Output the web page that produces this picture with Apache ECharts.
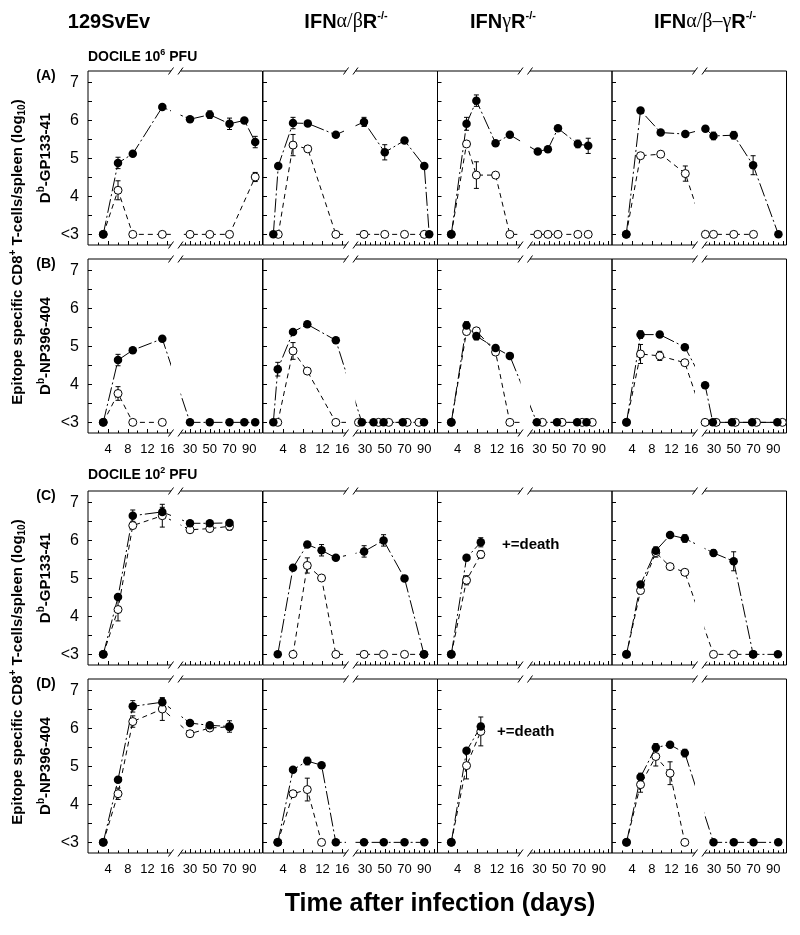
<!DOCTYPE html>
<html><head><meta charset="utf-8">
<script src="https://cdn.jsdelivr.net/npm/echarts@6/dist/echarts.min.js"></script>
<style>html,body{margin:0;padding:0;background:#fff}#c{width:800px;height:935px}</style>
</head><body><div id="c"></div>
<script>
// ---------------- DATA ----------------
// tick labels
const xTickLabels = [4, 8, 12, 16, 30, 50, 70, 90];
const xMajorTicksLeft = [4, 8, 12, 16];
const xMinorTicksLeft = [2, 6, 10, 14];
const xMajorTicksRight = [30, 40, 50, 60, 70, 80, 90, 100];
const xMinorTicksRight = [25, 35, 45, 55, 65, 75, 85, 95];
const yTickValues = [3, 4, 5, 6, 7];
const yTickLabels = ['<3', '4', '5', '6', '7'];
const yMinorTicks = [3, 3.5, 4, 4.5, 5, 5.5, 6, 6.5, 7];
const rowEpitopes = ['GP133-41', 'NP396-404', 'GP133-41', 'NP396-404'];
const rowLetters = ['(A)', '(B)', '(C)', '(D)'];

// each point: [day, log10 value, error]
const A1_filled = [[3,3,0],[6,4.88,0.15],[9,5.12,0],[15,6.35,0],[30,6.03,0],[50,6.15,0.1],[70,5.91,0.15],[85,6.0,0],[96,5.43,0.15]];
const A1_open   = [[3,3,0],[6,4.16,0.25],[9,3,0],[15,3,0],[30,3,0],[50,3,0],[70,3,0],[96,4.51,0.12]];
const A2_filled = [[2,3,0],[3,4.8,0],[6,5.93,0.15],[9,5.92,0],[14.7,5.62,0],[29,5.96,0.12],[50,5.16,0.2],[70,5.47,0.07],[90,4.8,0],[95,3,0]];
const A2_open   = [[3,3,0],[6,5.35,0.28],[9,5.25,0.08],[14.7,3,0],[29,3,0],[50,3,0],[70,3,0],[90,3,0]];
const A3_filled = [[2.7,3,0],[5.8,5.91,0.17],[7.8,6.52,0.15],[11.7,5.40,0],[14.6,5.62,0],[28.3,5.18,0],[38.5,5.24,0],[48.7,5.79,0],[68.8,5.38,0.1],[79.3,5.33,0.2]];
const A3_open   = [[2.7,3,0],[5.8,5.38,0],[7.8,4.56,0.35],[11.7,4.56,0.05],[14.6,3,0],[28.3,3,0],[38.5,3,0],[48.7,3,0],[68.8,3,0],[79.3,3,0]];
const A4_filled = [[2.8,3,0],[5.7,6.26,0],[9.8,5.68,0],[14.8,5.64,0],[21.3,5.78,0],[29.5,5.59,0.1],[50,5.61,0.1],[69.6,4.82,0.25],[95.2,3,0]];
const A4_open   = [[2.8,3,0],[5.7,5.07,0],[9.8,5.11,0],[14.8,4.6,0.2],[21.3,3,0],[29.5,3,0],[50,3,0],[70,3,0]];

const B1_filled = [[3,3,0],[6,4.64,0.15],[9,4.90,0],[15,5.20,0],[30,3,0],[50,3,0],[70,3,0],[85,3,0],[96,3,0]];
const B1_open   = [[3,3,0],[6,3.76,0.18],[9,3,0],[15,3,0]];
const B2_filled = [[2,3,0],[2.9,4.40,0.18],[6,5.38,0.06],[8.9,5.58,0],[14.7,5.16,0.07],[26.8,3,0],[38.6,3,0],[48.8,3,0],[68.2,3,0],[89.7,3,0]];
const B2_open   = [[2.9,3,0],[6,4.88,0.22],[8.9,4.35,0],[14.7,3,0],[23.4,3,0],[43.7,3,0],[54,3,0],[72.6,3,0],[84.6,3,0]];
const B3_filled = [[2.7,3,0],[5.8,5.55,0.1],[7.8,5.27,0.1],[11.7,4.96,0],[14.6,4.75,0],[27.3,3,0],[47.7,3,0],[68.1,3,0],[77.6,3,0]];
const B3_open   = [[2.7,3,0],[5.8,5.39,0],[7.8,5.41,0],[11.7,4.85,0],[14.6,3,0],[33,3,0],[52.8,3,0],[73.2,3,0],[83.4,3,0]];
const B4_filled = [[2.85,3,0],[5.7,5.31,0.1],[9.6,5.31,0],[14.7,4.98,0],[21,3.98,0],[28.8,3,0],[48.2,3,0],[68.6,3,0],[94.1,3,0]];
const B4_open   = [[2.85,3,0],[5.7,4.80,0.25],[9.6,4.75,0.12],[14.7,4.57,0],[21,3,0],[32.2,3,0],[51.6,3,0],[73,3,0],[99.2,3,0]];

const C1_filled = [[3,3,0],[6,4.51,0],[9,6.65,0.15],[15,6.75,0.12],[30,6.45,0],[50,6.45,0],[70,6.46,0.05]];
const C1_open   = [[3,3,0],[6,4.18,0.3],[9,6.39,0],[15,6.65,0.3],[30,6.28,0],[50,6.31,0],[70,6.37,0.1]];
const C2_filled = [[2.9,3,0],[6,5.28,0],[8.9,5.89,0],[11.8,5.74,0.15],[14.7,5.54,0],[29.1,5.71,0.15],[48.8,6.0,0.15],[70,5.0,0],[89.7,3,0]];
const C2_open   = [[6,3,0],[8.9,5.34,0.2],[11.8,5.01,0.05],[14.7,3,0],[29.1,3,0],[48.8,3,0],[70,3,0],[89.7,3,0]];
const C3_filled = [[2.7,3,0],[5.8,5.54,0],[8.7,5.95,0.12]];
const C3_open   = [[2.7,3,0],[5.8,4.95,0.12],[8.7,5.63,0.1]];
const C4_filled = [[2.85,3,0],[5.7,4.84,0],[8.8,5.73,0.1],[11.7,6.14,0.05],[14.7,6.05,0.1],[29.5,5.67,0.08],[49.9,5.45,0.25],[69.6,3,0],[94.7,3,0]];
const C4_open   = [[2.85,3,0],[5.7,4.68,0.08],[8.8,5.68,0.12],[11.7,5.31,0.05],[14.7,5.16,0],[29.5,3,0],[49.9,3,0],[69.6,3,0]];

const D1_filled = [[3,3,0],[6,4.65,0],[9,6.58,0.15],[15,6.69,0.1],[30,6.14,0],[50,6.08,0],[70,6.05,0.15]];
const D1_open   = [[3,3,0],[6,4.28,0.15],[9,6.18,0.15],[15,6.51,0.3],[30,5.86,0],[50,6.01,0],[70,6.04,0]];
const D2_filled = [[2.9,3,0],[6,4.91,0],[8.9,5.14,0.1],[11.8,5.03,0],[14.7,3,0],[29,3,0],[49,3,0],[70,3,0],[90,3,0]];
const D2_open   = [[2.9,3,0],[6,4.28,0],[8.9,4.39,0.3],[11.8,3,0]];
const D3_filled = [[2.7,3,0],[5.8,5.41,0],[8.7,6.05,0.08]];
const D3_open   = [[2.7,3,0],[5.8,5.02,0.35],[8.7,5.92,0.38]];
const D4_filled = [[2.85,3,0],[5.7,4.72,0.1],[8.8,5.5,0.1],[11.7,5.57,0],[14.7,5.35,0.1],[29.5,3,0],[50,3,0],[70,3,0],[95,3,0]];
const D4_open   = [[2.85,3,0],[5.7,4.52,0.2],[8.8,5.26,0.25],[11.7,4.82,0.3],[14.7,3,0]];

const panels = [
  [A1_filled, A1_open], [A2_filled, A2_open], [A3_filled, A3_open], [A4_filled, A4_open],
  [B1_filled, B1_open], [B2_filled, B2_open], [B3_filled, B3_open], [B4_filled, B4_open],
  [C1_filled, C1_open], [C2_filled, C2_open], [C3_filled, C3_open], [C4_filled, C4_open],
  [D1_filled, D1_open], [D2_filled, D2_open], [D3_filled, D3_open], [D4_filled, D4_open]
];

// ---------------- LAYOUT ----------------
const L = [88, 263, 437.5, 612], T = [71, 259, 491, 679], W = 174.5, H = 174;
const Y_MIN = 2.72, Y_MAX = 7.3;
const GAP0 = 83, GAP1 = 92.5;
// broken time axis: day -> axis units (two linear pieces)
function tx(d) { return d <= 18 ? 0.5 + 4.92 * d : 102 + 0.988 * (d - 30); }
const FONT = "'Liberation Sans', Arial, sans-serif";
const NARROW = "'Liberation Sans Narrow', 'Liberation Sans', Arial, sans-serif";

const grid = [], xAxis = [], yAxis = [], series = [], graphic = [];

function errRender(params, api) {
  const x = api.value(0), lo = api.value(1), hi = api.value(2);
  const p1 = api.coord([x, lo]), p2 = api.coord([x, hi]);
  const w = 2.5, st = { stroke: '#000', lineWidth: 1 };
  return { type: 'group', children: [
    { type: 'line', shape: { x1: p1[0], y1: p1[1], x2: p2[0], y2: p2[1] }, style: st },
    { type: 'line', shape: { x1: p1[0] - w, y1: p1[1], x2: p1[0] + w, y2: p1[1] }, style: st },
    { type: 'line', shape: { x1: p2[0] - w, y1: p2[1], x2: p2[0] + w, y2: p2[1] }, style: st }
  ]};
}

for (let r = 0; r < 4; r++) {
  for (let c = 0; c < 4; c++) {
    const g = r * 4 + c;
    grid.push({ left: L[c], top: T[r], width: W, height: H, show: true, borderColor: '#000', borderWidth: 1,
      backgroundColor: 'transparent', containLabel: false, outerBoundsMode: 'none' });
    const showX = (r === 1 || r === 3);
    xAxis.push({ type: 'value', gridIndex: g, min: 0, max: W, position: 'bottom',
      axisLine: { show: false }, splitLine: { show: false },
      axisTick: { show: true, inside: true, length: 4, lineStyle: { color: '#000', width: 1 },
        customValues: xMajorTicksLeft.concat(xMajorTicksRight).map(tx) },
      axisLabel: { show: showX, margin: 10, fontSize: 13, color: '#000', fontFamily: NARROW,
        customValues: xTickLabels.map(tx),
        formatter: v => { for (const d of xTickLabels) if (Math.abs(tx(d) - v) < 0.01) return String(d); return ''; } }
    });
    xAxis.push({ type: 'value', gridIndex: g, min: 0, max: W, position: 'bottom',
      axisLine: { show: false }, splitLine: { show: false }, axisLabel: { show: false },
      axisTick: { show: true, inside: true, length: 2.5, lineStyle: { color: '#000', width: 1 },
        customValues: xMinorTicksLeft.concat(xMinorTicksRight).map(tx) }
    });
    const ya = { type: 'value', gridIndex: g, min: Y_MIN, max: Y_MAX,
      axisLine: { show: false }, splitLine: { show: false },
      axisTick: { show: true, inside: true, length: 4, lineStyle: { color: '#000', width: 1 }, customValues: yMinorTicks },
      axisLabel: { show: c === 0, margin: 9, fontSize: 16, color: '#000', fontFamily: FONT,
        customValues: yTickValues,
        formatter: v => { const i = yTickValues.findIndex(t => Math.abs(t - v) < 1e-6); return i >= 0 ? yTickLabels[i] : ''; } }
    };
    if (c === 0) {
      ya.name = '{n|D}{s|b}{n|-' + rowEpitopes[r] + '}';
      ya.nameLocation = 'middle';
      ya.nameRotate = 90;
      ya.nameGap = 33;
      ya.nameTextStyle = { rich: {
        n: { fontSize: 15, fontWeight: 'bold', fontFamily: FONT, color: '#000', lineHeight: 19 },
        s: { fontSize: 10, fontWeight: 'bold', fontFamily: FONT, color: '#000', verticalAlign: 'top' }
      }};
    }
    yAxis.push(ya);

    const [filled, open] = panels[g];
    const toXY = pts => pts.map(p => [tx(p[0]), p[1]]);
    const toErr = pts => pts.filter(p => p[2] > 0).map(p => [tx(p[0]), p[1] - p[2], p[1] + p[2]]);
    const xi = 2 * g, yi = g;
    series.push({ type: 'line', xAxisIndex: xi, yAxisIndex: yi, data: toXY(open), showSymbol: false, symbol: 'none', z: 2,
      lineStyle: { color: '#000', width: 1, type: [5, 4] }, silent: true });
    series.push({ type: 'line', xAxisIndex: xi, yAxisIndex: yi, data: toXY(filled), showSymbol: false, symbol: 'none', z: 2,
      lineStyle: { color: '#000', width: 1, type: [14, 3, 2, 3] }, silent: true });
    series.push({ type: 'custom', xAxisIndex: xi, yAxisIndex: yi, data: toErr(open), renderItem: errRender, z: 4,
      encode: { x: 0, y: [1, 2] }, silent: true });
    series.push({ type: 'custom', xAxisIndex: xi, yAxisIndex: yi, data: toErr(filled), renderItem: errRender, z: 4,
      encode: { x: 0, y: [1, 2] }, silent: true });
    series.push({ type: 'scatter', xAxisIndex: xi, yAxisIndex: yi, data: toXY(open), symbol: 'circle', symbolSize: 8, z: 5,
      itemStyle: { color: '#fff', borderColor: '#000', borderWidth: 1, opacity: 1 }, silent: true });
    series.push({ type: 'scatter', xAxisIndex: xi, yAxisIndex: yi, data: toXY(filled), symbol: 'circle', symbolSize: 8.5, z: 6,
      itemStyle: { color: '#000', borderColor: '#000', borderWidth: 0, opacity: 1 }, silent: true });

    // axis break: blank gap + slash marks on top and bottom borders
    const gx0 = L[c] + GAP0, gx1 = L[c] + GAP1;
    graphic.push({ type: 'rect', z: 3, silent: true, shape: { x: gx0, y: T[r] - 2, width: gx1 - gx0, height: H + 4 }, style: { fill: '#fff' } });
    for (const yy of [T[r], T[r] + H]) {
      for (const xx of [gx0, gx1]) {
        graphic.push({ type: 'line', z: 7, silent: true, shape: { x1: xx - 2.5, y1: yy + 3.5, x2: xx + 2.5, y2: yy - 3.5 }, style: { stroke: '#000', lineWidth: 1 } });
      }
    }
  }
}

function txt(x, y, text, rich, rot, align) {
  return { type: 'text', x: x, y: y, rotation: rot || 0, z: 10, silent: true,
    style: { text: text, rich: rich, align: align || 'center', verticalAlign: 'middle', fill: '#000' } };
}
const hdrRich = {
  b: { fontSize: 20, fontWeight: 'bold', fontFamily: FONT, fill: '#000', lineHeight: 24 },
  g: { fontSize: 20, fontWeight: 'normal', fontFamily: "'Liberation Serif', serif", fill: '#000', lineHeight: 24 },
  s: { fontSize: 11, fontWeight: 'bold', fontFamily: FONT, fill: '#000', verticalAlign: 'top' }
};
graphic.push(txt(109, 22, '{b|129SvEv}', hdrRich));
graphic.push(txt(346, 22, '{b|IFN}{g|α/β}{b|R}{s|-/-}', hdrRich));
graphic.push(txt(503, 22, '{b|IFN}{g|γ}{b|R}{s|-/-}', hdrRich));
graphic.push(txt(705, 22, '{b|IFN}{g|α/β–γ}{b|R}{s|-/-}', hdrRich));

const smRich = {
  b: { fontSize: 14, fontWeight: 'bold', fontFamily: FONT, fill: '#000', lineHeight: 18 },
  s: { fontSize: 9, fontWeight: 'bold', fontFamily: FONT, fill: '#000', verticalAlign: 'top' }
};
graphic.push(txt(88, 57, '{b|DOCILE 10}{s|6}{b| PFU}', smRich, 0, 'left'));
graphic.push(txt(88, 475, '{b|DOCILE 10}{s|2}{b| PFU}', smRich, 0, 'left'));
for (let r = 0; r < 4; r++) graphic.push(txt(46, T[r] + 5, '{b|' + rowLetters[r] + '}', smRich));

const yRich = {
  b: { fontSize: 15, fontWeight: 'bold', fontFamily: FONT, fill: '#000', lineHeight: 19 },
  s: { fontSize: 10, fontWeight: 'bold', fontFamily: FONT, fill: '#000', verticalAlign: 'top' },
  u: { fontSize: 10, fontWeight: 'bold', fontFamily: FONT, fill: '#000', verticalAlign: 'bottom' }
};
const yTitle = '{b|Epitope specific CD8}{s|+}{b| T-cells/spleen (log}{u|10}{b|)}';
graphic.push(txt(18, 252, yTitle, yRich, Math.PI / 2));
graphic.push(txt(18, 672, yTitle, yRich, Math.PI / 2));

const deathRich = { b: { fontSize: 15, fontWeight: 'bold', fontFamily: FONT, fill: '#000' } };
graphic.push(txt(502, 545, '{b|+=death}', deathRich, 0, 'left'));
graphic.push(txt(497, 732, '{b|+=death}', deathRich, 0, 'left'));

const xTitleRich = { b: { fontSize: 25, fontWeight: 'bold', fontFamily: FONT, fill: '#000' } };
graphic.push(txt(440, 904, '{b|Time after infection (days)}', xTitleRich));

const chart = echarts.init(document.getElementById('c'), null, { renderer: 'canvas' });
chart.setOption({ animation: false, backgroundColor: '#fff', grid, xAxis, yAxis, series, graphic });
</script></body></html>
